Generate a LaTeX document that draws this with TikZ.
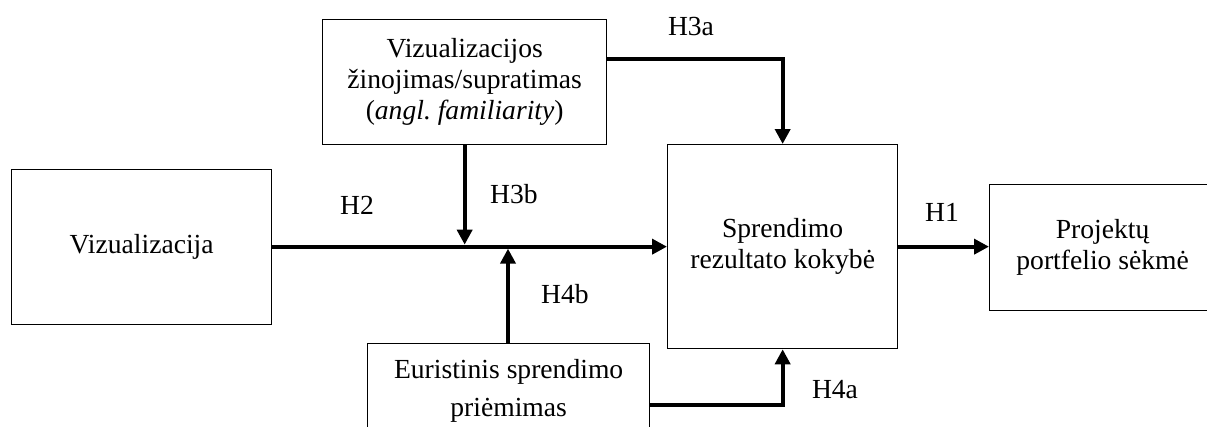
\documentclass[tikz,border=0pt]{standalone}
\usepackage{fontspec}
\setmainfont{Liberation Serif}
\usetikzlibrary{arrows.meta}
\begin{document}
\begin{tikzpicture}[x=1pt,y=-1pt,
  box/.style={draw, line width=1.3pt, rectangle, anchor=north west, inner sep=0pt,
    align=center, font=\fontsize{27.6}{31}\selectfont},
  link/.style={line width=4pt, -{Triangle[length=15pt,width=15pt]}},
  hyp/.style={font=\fontsize{27.6}{31}\selectfont, inner sep=0pt}]
\clip (0,0) rectangle (1207,426);
\fill[white] (0,0) rectangle (1207,426);

% boxes
\node[box, minimum width=260pt, minimum height=155pt] (viz) at (11,168.5) {Vizualizacija};
\node[box, minimum width=284pt, minimum height=125pt] (fam) at (322,19)
  {Vizualizacijos\\žinojimas/supratimas\\(\textit{angl.\ familiarity})};
\node[box, minimum width=230pt, minimum height=204pt] (dec) at (667,144)
  {Sprendimo\\rezultato kokybė};
\node[box, minimum width=226pt, minimum height=126pt] (port) at (989,184)
  {Projektų\\portfelio sėkmė};
\node[box, minimum width=282pt, minimum height=94pt] (heur) at (367,343)
  {Euristinis sprendimo\\[7pt]priėmimas};

% main line and hypotheses
\draw[link] (viz.east) -- (dec.west);
\coordinate (h3bend) at ([yshift=2pt]fam.south |- dec.west);
\coordinate (h4foot) at (heur.north -| 508,0);
\coordinate (h4bend) at ([yshift=-2pt]h4foot |- dec.west);
\draw[link] (fam.south) -- (h3bend);
\draw[link] (h4foot) -- (h4bend);
\draw[link] ([yshift=23.5pt]fam.east) -| (dec.north);
\draw[link] ([yshift=-14pt]heur.east) -| (dec.south);
\draw[link] (dec.east) -- (dec.east -| port.west);

% labels
\node[hyp] (lh2) at (357,205) {H2};
\node[hyp] (lh3a) at (691,26.5) {H3a};
\node[hyp] (lh3b) at (514,194) {H3b};
\node[hyp] (lh4b) at (565,294) {H4b};
\node[hyp] (lh4a) at (835,389.5) {H4a};
\node[hyp] (lh1) at (942,212) {H1};
\end{tikzpicture}
\end{document}
